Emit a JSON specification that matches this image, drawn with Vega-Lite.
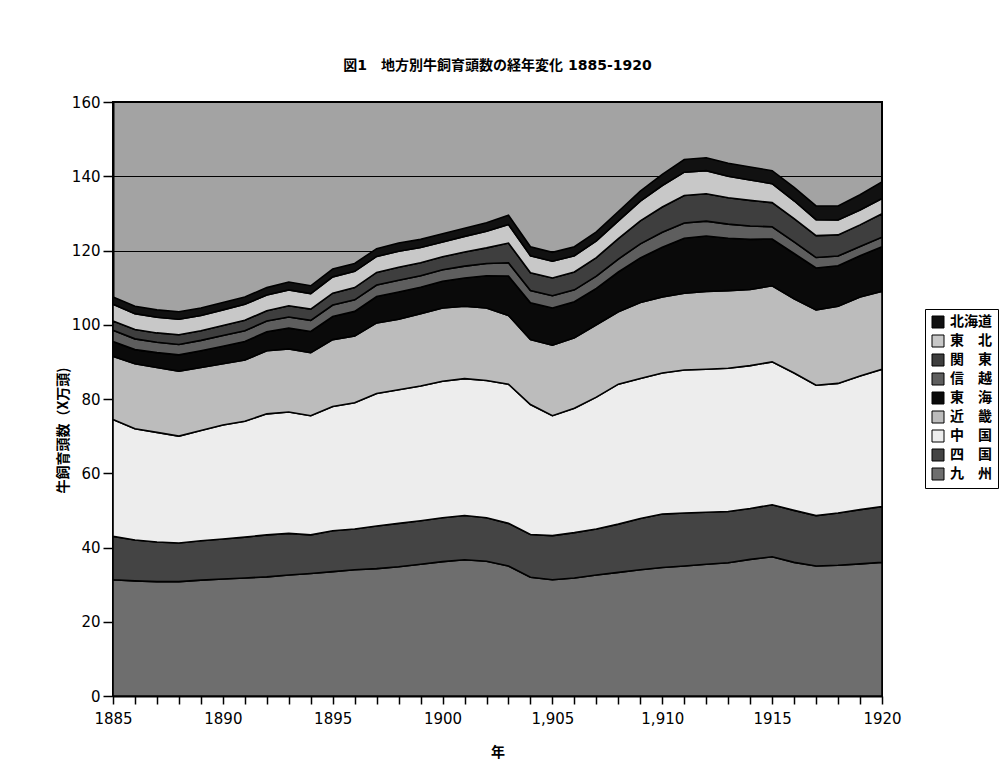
{
  "$schema": "https://vega.github.io/schema/vega-lite/v6.json",
  "width": 769,
  "height": 594,
  "autosize": {"type": "none"},
  "padding": {"left": 113, "top": 102, "right": 126, "bottom": 87},
  "background": "white",
  "title": {"text": "図1　地方別牛飼育頭数の経年変化 1885-1920", "fontSize": 14, "fontWeight": "bold", "font": "DejaVu Sans, Noto Sans CJK JP", "anchor": "middle", "offset": 22, "color": "#000"},
  "datasets": {
    "regions": [
      {"region":"九州","rank":1},{"region":"四国","rank":2},{"region":"中国","rank":3},{"region":"近畿","rank":4},{"region":"東海","rank":5},{"region":"信越","rank":6},{"region":"関東","rank":7},{"region":"東北","rank":8},{"region":"北海道","rank":9}
    ],
    "cattle": [
      {"year":1885,"region":"九州","head":31.3},{"year":1885,"region":"四国","head":11.7},{"year":1885,"region":"中国","head":31.5},{"year":1885,"region":"近畿","head":17},{"year":1885,"region":"東海","head":4},{"year":1885,"region":"信越","head":3},{"year":1885,"region":"関東","head":2.5},{"year":1885,"region":"東北","head":4.5},{"year":1885,"region":"北海道","head":2},
      {"year":1886,"region":"九州","head":31},{"year":1886,"region":"四国","head":11},{"year":1886,"region":"中国","head":30},{"year":1886,"region":"近畿","head":17.5},{"year":1886,"region":"東海","head":3.8},{"year":1886,"region":"信越","head":2.9},{"year":1886,"region":"関東","head":2.5},{"year":1886,"region":"東北","head":4.3},{"year":1886,"region":"北海道","head":2},
      {"year":1887,"region":"九州","head":30.8},{"year":1887,"region":"四国","head":10.7},{"year":1887,"region":"中国","head":29.5},{"year":1887,"region":"近畿","head":17.5},{"year":1887,"region":"東海","head":4},{"year":1887,"region":"信越","head":2.8},{"year":1887,"region":"関東","head":2.5},{"year":1887,"region":"東北","head":4.2},{"year":1887,"region":"北海道","head":2},
      {"year":1888,"region":"九州","head":30.8},{"year":1888,"region":"四国","head":10.4},{"year":1888,"region":"中国","head":28.8},{"year":1888,"region":"近畿","head":17.5},{"year":1888,"region":"東海","head":4.4},{"year":1888,"region":"信越","head":2.8},{"year":1888,"region":"関東","head":2.6},{"year":1888,"region":"東北","head":4.2},{"year":1888,"region":"北海道","head":2},
      {"year":1889,"region":"九州","head":31.2},{"year":1889,"region":"四国","head":10.6},{"year":1889,"region":"中国","head":29.7},{"year":1889,"region":"近畿","head":17},{"year":1889,"region":"東海","head":4.5},{"year":1889,"region":"信越","head":2.8},{"year":1889,"region":"関東","head":2.6},{"year":1889,"region":"東北","head":4.1},{"year":1889,"region":"北海道","head":2},
      {"year":1890,"region":"九州","head":31.5},{"year":1890,"region":"四国","head":10.8},{"year":1890,"region":"中国","head":30.7},{"year":1890,"region":"近畿","head":16.5},{"year":1890,"region":"東海","head":4.7},{"year":1890,"region":"信越","head":2.9},{"year":1890,"region":"関東","head":2.7},{"year":1890,"region":"東北","head":4.2},{"year":1890,"region":"北海道","head":2},
      {"year":1891,"region":"九州","head":31.8},{"year":1891,"region":"四国","head":11},{"year":1891,"region":"中国","head":31.2},{"year":1891,"region":"近畿","head":16.5},{"year":1891,"region":"東海","head":5},{"year":1891,"region":"信越","head":2.9},{"year":1891,"region":"関東","head":2.8},{"year":1891,"region":"東北","head":4.3},{"year":1891,"region":"北海道","head":2},
      {"year":1892,"region":"九州","head":32.1},{"year":1892,"region":"四国","head":11.3},{"year":1892,"region":"中国","head":32.6},{"year":1892,"region":"近畿","head":17},{"year":1892,"region":"東海","head":5.1},{"year":1892,"region":"信越","head":2.9},{"year":1892,"region":"関東","head":2.8},{"year":1892,"region":"東北","head":4.2},{"year":1892,"region":"北海道","head":2},
      {"year":1893,"region":"九州","head":32.6},{"year":1893,"region":"四国","head":11.2},{"year":1893,"region":"中国","head":32.7},{"year":1893,"region":"近畿","head":17},{"year":1893,"region":"東海","head":5.6},{"year":1893,"region":"信越","head":3},{"year":1893,"region":"関東","head":3},{"year":1893,"region":"東北","head":4.3},{"year":1893,"region":"北海道","head":2.1},
      {"year":1894,"region":"九州","head":33},{"year":1894,"region":"四国","head":10.4},{"year":1894,"region":"中国","head":32.1},{"year":1894,"region":"近畿","head":17},{"year":1894,"region":"東海","head":5.7},{"year":1894,"region":"信越","head":3},{"year":1894,"region":"関東","head":3},{"year":1894,"region":"東北","head":4.2},{"year":1894,"region":"北海道","head":2.1},
      {"year":1895,"region":"九州","head":33.5},{"year":1895,"region":"四国","head":11},{"year":1895,"region":"中国","head":33.5},{"year":1895,"region":"近畿","head":18},{"year":1895,"region":"東海","head":6.2},{"year":1895,"region":"信越","head":3.1},{"year":1895,"region":"関東","head":3.2},{"year":1895,"region":"東北","head":4.4},{"year":1895,"region":"北海道","head":2.1},
      {"year":1896,"region":"九州","head":34},{"year":1896,"region":"四国","head":11},{"year":1896,"region":"中国","head":34},{"year":1896,"region":"近畿","head":18},{"year":1896,"region":"東海","head":6.6},{"year":1896,"region":"信越","head":3.1},{"year":1896,"region":"関東","head":3.3},{"year":1896,"region":"東北","head":4.4},{"year":1896,"region":"北海道","head":2.1},
      {"year":1897,"region":"九州","head":34.3},{"year":1897,"region":"四国","head":11.5},{"year":1897,"region":"中国","head":35.7},{"year":1897,"region":"近畿","head":19},{"year":1897,"region":"東海","head":7.1},{"year":1897,"region":"信越","head":3.1},{"year":1897,"region":"関東","head":3.4},{"year":1897,"region":"東北","head":4.3},{"year":1897,"region":"北海道","head":2.1},
      {"year":1898,"region":"九州","head":34.8},{"year":1898,"region":"四国","head":11.7},{"year":1898,"region":"中国","head":36},{"year":1898,"region":"近畿","head":19},{"year":1898,"region":"東海","head":7.3},{"year":1898,"region":"信越","head":3.2},{"year":1898,"region":"関東","head":3.5},{"year":1898,"region":"東北","head":4.3},{"year":1898,"region":"北海道","head":2.2},
      {"year":1899,"region":"九州","head":35.5},{"year":1899,"region":"四国","head":11.7},{"year":1899,"region":"中国","head":36.3},{"year":1899,"region":"近畿","head":19.5},{"year":1899,"region":"東海","head":7.1},{"year":1899,"region":"信越","head":3.1},{"year":1899,"region":"関東","head":3.5},{"year":1899,"region":"東北","head":4.1},{"year":1899,"region":"北海道","head":2.2},
      {"year":1900,"region":"九州","head":36.2},{"year":1900,"region":"四国","head":11.8},{"year":1900,"region":"中国","head":36.8},{"year":1900,"region":"近畿","head":19.7},{"year":1900,"region":"東海","head":7.2},{"year":1900,"region":"信越","head":3.1},{"year":1900,"region":"関東","head":3.5},{"year":1900,"region":"東北","head":4},{"year":1900,"region":"北海道","head":2.2},
      {"year":1901,"region":"九州","head":36.7},{"year":1901,"region":"四国","head":11.9},{"year":1901,"region":"中国","head":36.9},{"year":1901,"region":"近畿","head":19.5},{"year":1901,"region":"東海","head":7.6},{"year":1901,"region":"信越","head":3.2},{"year":1901,"region":"関東","head":3.8},{"year":1901,"region":"東北","head":4.2},{"year":1901,"region":"北海道","head":2.2},
      {"year":1902,"region":"九州","head":36.3},{"year":1902,"region":"四国","head":11.7},{"year":1902,"region":"中国","head":37},{"year":1902,"region":"近畿","head":19.5},{"year":1902,"region":"東海","head":8.7},{"year":1902,"region":"信越","head":3.3},{"year":1902,"region":"関東","head":4.2},{"year":1902,"region":"東北","head":4.5},{"year":1902,"region":"北海道","head":2.3},
      {"year":1903,"region":"九州","head":35},{"year":1903,"region":"四国","head":11.5},{"year":1903,"region":"中国","head":37.5},{"year":1903,"region":"近畿","head":18.5},{"year":1903,"region":"東海","head":10.6},{"year":1903,"region":"信越","head":3.6},{"year":1903,"region":"関東","head":5.3},{"year":1903,"region":"東北","head":5},{"year":1903,"region":"北海道","head":2.5},
      {"year":1904,"region":"九州","head":32},{"year":1904,"region":"四国","head":11.5},{"year":1904,"region":"中国","head":35},{"year":1904,"region":"近畿","head":17.5},{"year":1904,"region":"東海","head":9.9},{"year":1904,"region":"信越","head":3.3},{"year":1904,"region":"関東","head":4.8},{"year":1904,"region":"東北","head":4.6},{"year":1904,"region":"北海道","head":2.4},
      {"year":1905,"region":"九州","head":31.3},{"year":1905,"region":"四国","head":11.9},{"year":1905,"region":"中国","head":32.3},{"year":1905,"region":"近畿","head":19},{"year":1905,"region":"東海","head":10},{"year":1905,"region":"信越","head":3.3},{"year":1905,"region":"関東","head":4.8},{"year":1905,"region":"東北","head":4.5},{"year":1905,"region":"北海道","head":2.4},
      {"year":1906,"region":"九州","head":31.8},{"year":1906,"region":"四国","head":12.2},{"year":1906,"region":"中国","head":33.5},{"year":1906,"region":"近畿","head":19},{"year":1906,"region":"東海","head":9.7},{"year":1906,"region":"信越","head":3.2},{"year":1906,"region":"関東","head":4.8},{"year":1906,"region":"東北","head":4.4},{"year":1906,"region":"北海道","head":2.4},
      {"year":1907,"region":"九州","head":32.6},{"year":1907,"region":"四国","head":12.4},{"year":1907,"region":"中国","head":35.5},{"year":1907,"region":"近畿","head":19.5},{"year":1907,"region":"東海","head":9.8},{"year":1907,"region":"信越","head":3.3},{"year":1907,"region":"関東","head":5},{"year":1907,"region":"東北","head":4.5},{"year":1907,"region":"北海道","head":2.4},
      {"year":1908,"region":"九州","head":33.3},{"year":1908,"region":"四国","head":13},{"year":1908,"region":"中国","head":37.7},{"year":1908,"region":"近畿","head":19.5},{"year":1908,"region":"東海","head":10.7},{"year":1908,"region":"信越","head":3.5},{"year":1908,"region":"関東","head":5.5},{"year":1908,"region":"東北","head":4.8},{"year":1908,"region":"北海道","head":2.5},
      {"year":1909,"region":"九州","head":34},{"year":1909,"region":"四国","head":13.8},{"year":1909,"region":"中国","head":37.7},{"year":1909,"region":"近畿","head":20.5},{"year":1909,"region":"東海","head":12},{"year":1909,"region":"信越","head":3.8},{"year":1909,"region":"関東","head":6.2},{"year":1909,"region":"東北","head":5.3},{"year":1909,"region":"北海道","head":2.7},
      {"year":1910,"region":"九州","head":34.6},{"year":1910,"region":"四国","head":14.4},{"year":1910,"region":"中国","head":38},{"year":1910,"region":"近畿","head":20.5},{"year":1910,"region":"東海","head":13.4},{"year":1910,"region":"信越","head":4},{"year":1910,"region":"関東","head":6.8},{"year":1910,"region":"東北","head":5.8},{"year":1910,"region":"北海道","head":3},
      {"year":1911,"region":"九州","head":35},{"year":1911,"region":"四国","head":14.3},{"year":1911,"region":"中国","head":38.5},{"year":1911,"region":"近畿","head":20.7},{"year":1911,"region":"東海","head":14.8},{"year":1911,"region":"信越","head":4.1},{"year":1911,"region":"関東","head":7.4},{"year":1911,"region":"東北","head":6.3},{"year":1911,"region":"北海道","head":3.4},
      {"year":1912,"region":"九州","head":35.5},{"year":1912,"region":"四国","head":14},{"year":1912,"region":"中国","head":38.5},{"year":1912,"region":"近畿","head":21},{"year":1912,"region":"東海","head":14.9},{"year":1912,"region":"信越","head":4},{"year":1912,"region":"関東","head":7.4},{"year":1912,"region":"東北","head":6.2},{"year":1912,"region":"北海道","head":3.5},
      {"year":1913,"region":"九州","head":35.9},{"year":1913,"region":"四国","head":13.8},{"year":1913,"region":"中国","head":38.6},{"year":1913,"region":"近畿","head":20.9},{"year":1913,"region":"東海","head":14.1},{"year":1913,"region":"信越","head":3.8},{"year":1913,"region":"関東","head":7.1},{"year":1913,"region":"東北","head":5.8},{"year":1913,"region":"北海道","head":3.5},
      {"year":1914,"region":"九州","head":36.8},{"year":1914,"region":"四国","head":13.7},{"year":1914,"region":"中国","head":38.5},{"year":1914,"region":"近畿","head":20.5},{"year":1914,"region":"東海","head":13.5},{"year":1914,"region":"信越","head":3.6},{"year":1914,"region":"関東","head":6.9},{"year":1914,"region":"東北","head":5.5},{"year":1914,"region":"北海道","head":3.5},
      {"year":1915,"region":"九州","head":37.5},{"year":1915,"region":"四国","head":14},{"year":1915,"region":"中国","head":38.5},{"year":1915,"region":"近畿","head":20.5},{"year":1915,"region":"東海","head":12.6},{"year":1915,"region":"信越","head":3.3},{"year":1915,"region":"関東","head":6.5},{"year":1915,"region":"東北","head":5.1},{"year":1915,"region":"北海道","head":3.5},
      {"year":1916,"region":"九州","head":36},{"year":1916,"region":"四国","head":14},{"year":1916,"region":"中国","head":37},{"year":1916,"region":"近畿","head":20},{"year":1916,"region":"東海","head":12.2},{"year":1916,"region":"信越","head":3.1},{"year":1916,"region":"関東","head":6.3},{"year":1916,"region":"東北","head":4.8},{"year":1916,"region":"北海道","head":3.6},
      {"year":1917,"region":"九州","head":35},{"year":1917,"region":"四国","head":13.6},{"year":1917,"region":"中国","head":35.1},{"year":1917,"region":"近畿","head":20.3},{"year":1917,"region":"東海","head":11.3},{"year":1917,"region":"信越","head":2.8},{"year":1917,"region":"関東","head":5.9},{"year":1917,"region":"東北","head":4.3},{"year":1917,"region":"北海道","head":3.7},
      {"year":1918,"region":"九州","head":35.2},{"year":1918,"region":"四国","head":14.1},{"year":1918,"region":"中国","head":34.9},{"year":1918,"region":"近畿","head":20.8},{"year":1918,"region":"東海","head":10.9},{"year":1918,"region":"信越","head":2.6},{"year":1918,"region":"関東","head":5.7},{"year":1918,"region":"東北","head":4},{"year":1918,"region":"北海道","head":3.8},
      {"year":1919,"region":"九州","head":35.6},{"year":1919,"region":"四国","head":14.6},{"year":1919,"region":"中国","head":36},{"year":1919,"region":"近畿","head":21.3},{"year":1919,"region":"東海","head":11.1},{"year":1919,"region":"信越","head":2.5},{"year":1919,"region":"関東","head":5.8},{"year":1919,"region":"東北","head":4},{"year":1919,"region":"北海道","head":4.1},
      {"year":1920,"region":"九州","head":36},{"year":1920,"region":"四国","head":15},{"year":1920,"region":"中国","head":37},{"year":1920,"region":"近畿","head":21},{"year":1920,"region":"東海","head":12},{"year":1920,"region":"信越","head":2.6},{"year":1920,"region":"関東","head":6.3},{"year":1920,"region":"東北","head":4.1},{"year":1920,"region":"北海道","head":4.5}
    ]
  },
  "data": {"name": "cattle"},
  "transform": [
    {"lookup": "region", "from": {"data": {"name": "regions"}, "key": "region", "fields": ["rank"]}}
  ],
  "mark": {"type": "area", "stroke": "#000", "strokeWidth": 1.6, "interpolate": "linear", "opacity": 1},
  "encoding": {
    "x": {
      "field": "year", "type": "quantitative",
      "scale": {"domain": [1885, 1920], "nice": false, "zero": false},
      "axis": {
        "title": "年", "titleFontSize": 14, "titleFontWeight": "bold", "titleFont": "Noto Sans CJK JP", "titleColor": "#000", "titlePadding": 19,
        "values": [1885,1886,1887,1888,1889,1890,1891,1892,1893,1894,1895,1896,1897,1898,1899,1900,1901,1902,1903,1904,1905,1906,1907,1908,1909,1910,1911,1912,1913,1914,1915,1916,1917,1918,1919,1920],
        "labelExpr": "datum.value % 5 === 0 ? (datum.value === 1905 ? '1,905' : (datum.value === 1910 ? '1,910' : toString(datum.value))) : ''",
        "labelOverlap": false, "labelFlush": false, "labelFontSize": 15, "labelFont": "DejaVu Sans", "labelColor": "#000", "labelPadding": 7,
        "tickColor": "#000", "tickSize": 8, "tickWidth": 1.5, "domainColor": "#000", "domainWidth": 2, "grid": false
      }
    },
    "y": {
      "field": "head", "type": "quantitative", "stack": "zero",
      "scale": {"domain": [0, 160], "nice": false},
      "axis": {
        "title": "牛飼育頭数（X万頭)", "titleFontSize": 14, "titleFontWeight": "bold", "titleFont": "Noto Sans CJK JP", "titleColor": "#000",
        "titleX": -50, "titleY": 328, "titleBaseline": "middle", "titleAngle": -90,
        "values": [0,20,40,60,80,100,120,140,160],
        "labelFontSize": 15, "labelFont": "DejaVu Sans", "labelColor": "#000", "labelPadding": 3,
        "tickColor": "#000", "tickSize": 10, "tickWidth": 1.5, "domainColor": "#000", "domainWidth": 2,
        "grid": true, "gridColor": "#000", "gridWidth": 1, "gridOpacity": 1
      }
    },
    "order": {"field": "rank", "type": "quantitative", "sort": "ascending"},
    "color": {
      "field": "region", "type": "nominal",
      "sort": ["北海道","東北","関東","信越","東海","近畿","中国","四国","九州"],
      "scale": {
        "domain": ["北海道","東北","関東","信越","東海","近畿","中国","四国","九州"],
        "range": ["#111111","#c8c8c8","#3e3e3e","#5e5e5e","#0a0a0a","#bcbcbc","#ededed","#444444","#6e6e6e"]
      },
      "legend": {
        "title": null, "orient": "none", "legendX": 812, "legendY": 207,
        "symbolType": "square", "symbolSize": 144, "symbolStrokeColor": "#000", "symbolStrokeWidth": 1, "symbolOpacity": 1,
        "labelFontSize": 14, "labelFontWeight": "bold", "labelFont": "Noto Sans CJK JP", "labelColor": "#000", "labelOffset": 5, "labelLimit": 200,
        "labelExpr": "length(datum.label) == 2 ? substring(datum.label, 0, 1) + '　' + substring(datum.label, 1, 2) : datum.label",
        "strokeColor": "#000", "padding": 6, "rowPadding": 3
      }
    }
  },
  "config": {
    "view": {"fill": "#a3a3a3", "stroke": "#000", "strokeWidth": 2}
  }
}
